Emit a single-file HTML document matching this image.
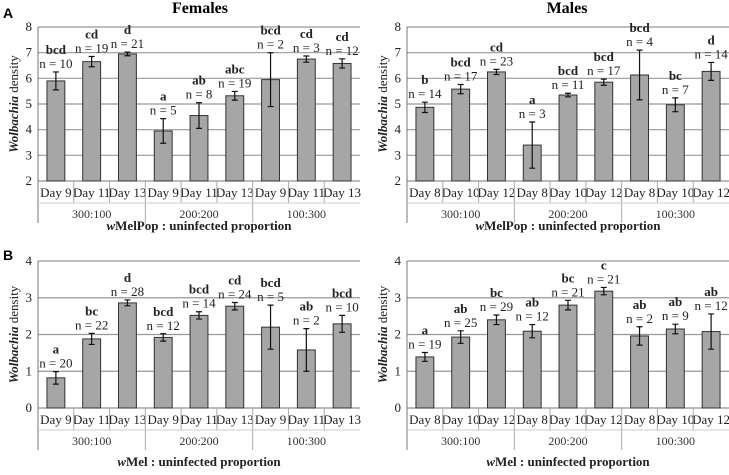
<!DOCTYPE html>
<html><head><meta charset="utf-8"><style>
body{margin:0;background:#fff;}
text,tspan{font-family:"Liberation Serif","Times New Roman",serif !important;}
</style></head><body>
<svg id="c" width="729" height="470" xmlns="http://www.w3.org/2000/svg" font-family="Liberation Serif, serif">
<text x="3" y="18" style="font-family:'Liberation Sans',sans-serif !important;font-weight:bold;font-size:14px">A</text>
<text x="3" y="260" style="font-family:'Liberation Sans',sans-serif !important;font-weight:bold;font-size:14px">B</text>
<text x="200" y="13" text-anchor="middle" style="font-weight:bold;font-size:16px">Females</text>
<text x="567" y="13" text-anchor="middle" style="font-weight:bold;font-size:16px">Males</text>
</svg>
<script>
const catsF = ["Day 9","Day 11","Day 13","Day 9","Day 11","Day 13","Day 9","Day 11","Day 13"];
const catsM = ["Day 8","Day 10","Day 12","Day 8","Day 10","Day 12","Day 8","Day 10","Day 12"];
const groups = ["300:100","200:200","100:300"];
const tlMeans = [5.9,6.65,6.95,3.95,4.55,5.32,5.95,6.75,6.58];
const tlErr = [0.35,0.2,0.07,0.48,0.5,0.17,1.05,0.12,0.18];
const tlLetters = ["bcd","cd","d","a","ab","abc","bcd","cd","cd"];
const tlN = [10,19,21,5,8,19,2,3,12];
const trMeans = [4.87,5.58,6.25,3.4,5.35,5.85,6.13,4.97,6.27];
const trErr = [0.2,0.18,0.1,0.9,0.07,0.12,0.97,0.27,0.35];
const trLetters = ["b","bcd","cd","a","bcd","bcd","bcd","bc","d"];
const trN = [14,17,23,3,11,17,4,7,14];
const blMeans = [0.82,1.88,2.86,1.92,2.52,2.77,2.2,1.58,2.29];
const blErr = [0.17,0.15,0.08,0.1,0.1,0.1,0.6,0.58,0.23];
const blLetters = ["a","bc","d","bcd","bcd","cd","bcd","ab","bcd"];
const blN = [20,22,28,12,14,24,5,2,10];
const brMeans = [1.39,1.93,2.4,2.09,2.8,3.18,1.96,2.15,2.08];
const brErr = [0.12,0.17,0.13,0.18,0.13,0.1,0.25,0.13,0.48];
const brLetters = ["a","ab","bc","ab","bc","c","ab","ab","ab"];
const brN = [19,25,29,12,21,21,2,9,12];
const ticksTop = [2,3,4,5,6,7,8];
const ticksBot = [0,1,2,3,4];

const svg = document.getElementById('c');
const NS = "http://www.w3.org/2000/svg";
function mk(tag, attrs, txt){
  const e = document.createElementNS(NS, tag);
  for (const k in attrs) e.setAttribute(k, attrs[k]);
  if (tag === 'text') e.setAttribute('font-family', 'Liberation Serif, serif');
  if (txt !== undefined) e.textContent = txt;
  svg.appendChild(e);
  return e;
}
function panel(id, x0, x1, yTop, yBot, ticks, cats, means, errs, letters, ns, xtitle){
  const ymin = ticks[0], ymax = ticks[ticks.length-1];
  const y = v => yBot - (v - ymin) / (ymax - ymin) * (yBot - yTop);
  const cw = (x1 - x0) / cats.length;
  const xc = i => x0 + cw * (i + 0.5);
  ticks.forEach(t => {
    if (t !== ymin) {
      const g = mk('line', {x1:x0, x2:x1, y1:y(t), y2:y(t), stroke:'#999', 'stroke-width':1.2});
      
      
    }
    const tl = mk('text', {x:x0-6, y:y(t)+4, 'text-anchor':'end', 'font-size':13, fill:'#222'}, String(t));
    
    
  });
  const ax = mk('line', {x1:x0, x2:x0, y1:yTop, y2:yBot + 42, stroke:'#777', 'stroke-width':1});
  
  
  const bx = mk('line', {x1:x0, x2:x1, y1:yBot, y2:yBot, stroke:'#777', 'stroke-width':1});
  
  
  means.forEach((m, i) => {
    const bw = cw * 0.5;
    const b = mk('rect', {x:xc(i)-bw/2, y:y(m), width:bw, height:yBot - y(m), fill:'#a6a6a6', stroke:'#333', 'stroke-width':1});
    
    
    const hi = y(m + errs[i]), lo = y(m - errs[i]);
    const e = mk('path', {d:`M${xc(i)},${hi}V${lo}M${xc(i)-3},${hi}H${xc(i)+3}M${xc(i)-3},${lo}H${xc(i)+3}`, stroke:'#111', 'stroke-width':1.2, fill:'none'});
    
    
    const nt = mk('text', {x:xc(i), y:hi-4, 'text-anchor':'middle', 'font-size':13, fill:'#222'}, 'n = ' + ns[i]);
    
    
    const lt = mk('text', {x:xc(i), y:hi-18, 'text-anchor':'middle', 'font-size':13, 'font-weight':'bold', fill:'#222'}, letters[i]);
    
    
    const ct = mk('text', {x:xc(i), y:yBot+16, 'text-anchor':'middle', 'font-size':13, fill:'#222'}, cats[i]);
    
    
    if (i > 0) {
      const big = i % 3 === 0;
      const s = mk('line', {x1:x0+cw*i, x2:x0+cw*i, y1:yBot, y2:yBot + (big ? 42 : 22), stroke:'#aaa', 'stroke-width':1});
      
      
    }
  });
  const cl = mk('line', {x1:x0, x2:x1, y1:yBot+22, y2:yBot+22, stroke:'#ccc', 'stroke-width':1});
  
  
  groups.forEach((g, j) => {
    const gt = mk('text', {x:x0 + cw*(3*j+1.5), y:yBot+37, 'text-anchor':'middle', 'font-size':12, fill:'#333'}, g);
    
    
  });
  const ty = (yTop + yBot) / 2;
  const yt = mk('text', {x:0, y:0, transform:`translate(${x0-20},${ty}) rotate(-90)`, 'text-anchor':'middle', 'font-size':13, fill:'#222'});
  yt.innerHTML = '<tspan font-style="italic" font-weight="bold">Wolbachia</tspan> density';
  
  
  const xt = mk('text', {x:(x0+x1)/2, y:yBot + (ticks[0]===0 ? 58 : 49), 'text-anchor':'middle', 'font-size':13, 'font-weight':'bold', fill:'#222'});
  xt.innerHTML = '<tspan font-style="italic">w</tspan>' + xtitle + ' : uninfected  proportion';
  
  
}
panel('females-wmelpop', 38, 360, 27, 181, ticksTop, catsF, tlMeans, tlErr, tlLetters, tlN, 'MelPop');
panel('males-wmelpop', 407, 729, 27, 181, ticksTop, catsM, trMeans, trErr, trLetters, trN, 'MelPop');
panel('females-wmel', 38, 360, 261, 408, ticksBot, catsF, blMeans, blErr, blLetters, blN, 'Mel');
panel('males-wmel', 407, 729, 261, 408, ticksBot, catsM, brMeans, brErr, brLetters, brN, 'Mel');
</script>
</body></html>
